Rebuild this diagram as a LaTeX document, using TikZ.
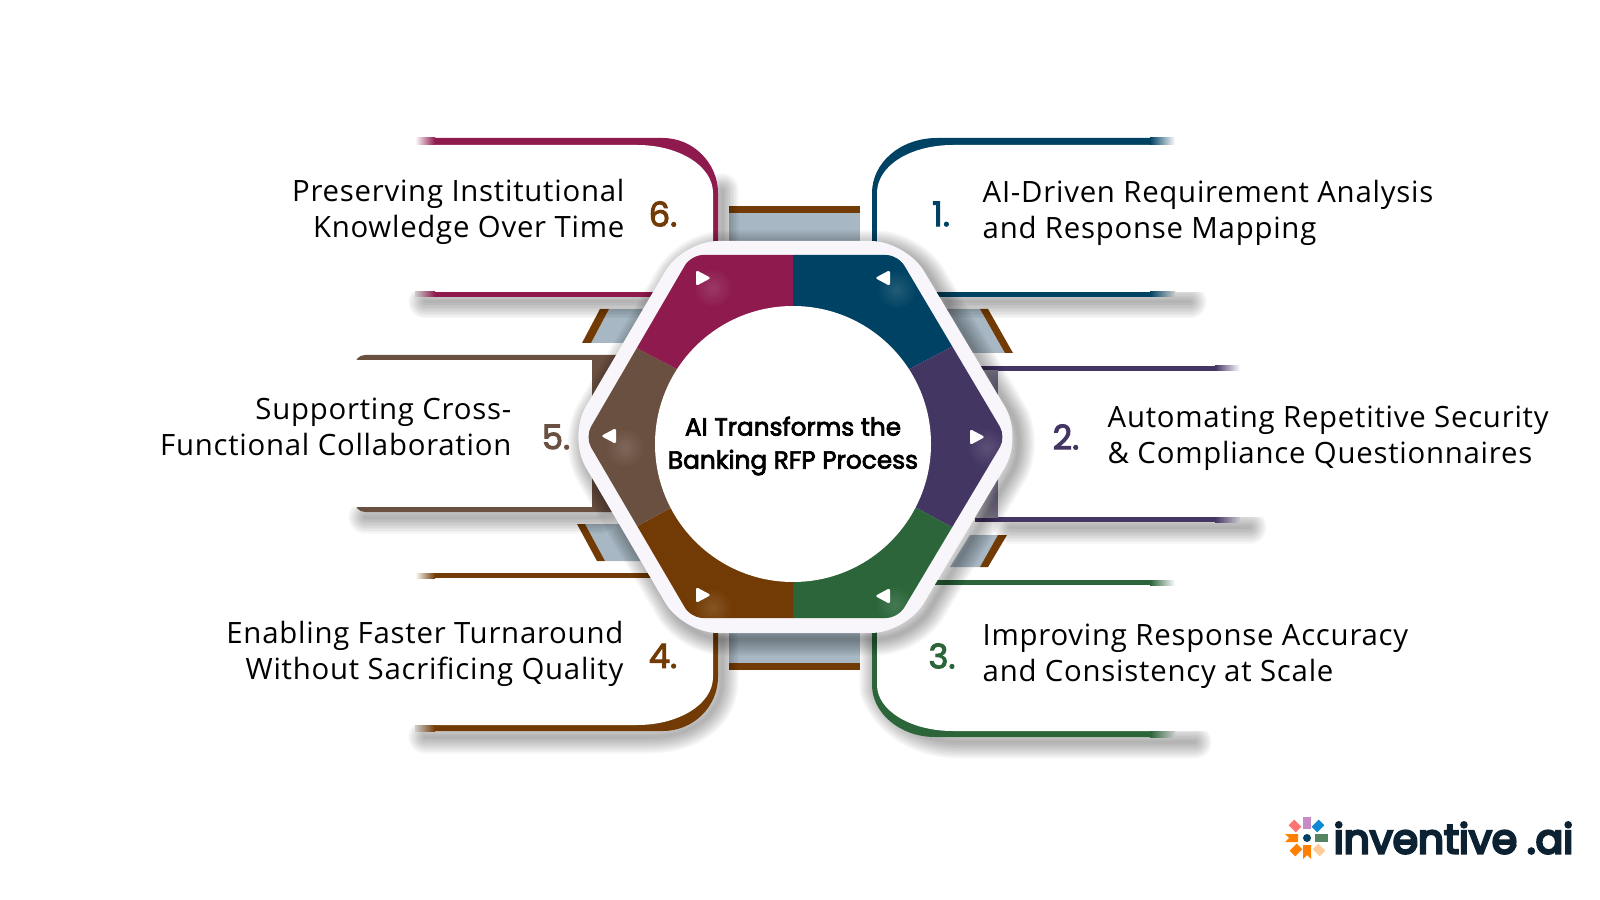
\documentclass[tikz,border=0pt]{standalone}
\usepackage{fontspec}
\usepackage{tikz}
\setmainfont[LetterSpace=2.6]{Open Sans}
\newfontfamily\numfont[FakeBold=3]{Poppins}
\newfontfamily\logofont[FakeBold=6]{Poppins}
\definecolor{cone}{HTML}{004263}
\definecolor{ctwo}{HTML}{443663}
\definecolor{cthree}{HTML}{2B6539}
\definecolor{cfour}{HTML}{723B05}
\definecolor{cfive}{HTML}{6A5040}
\definecolor{csix}{HTML}{8E1A4E}
\definecolor{cbar}{HTML}{A7B7C3}
\definecolor{crim}{HTML}{F8F6FA}
\definecolor{cink}{HTML}{0C2233}
\tikzset{cardtext/.style = {inner sep = 0, text = black, font = \fontsize{8.35pt}{10.25pt}\selectfont}}
\tikzset{cardnum/.style = {inner sep = 0, font = \numfont\fontsize{9.6pt}{10pt}\selectfont}}
\tikzset{hubcircle/.style = {circle, fill = white, inner sep = 0, minimum size = 2.76cm}}
\tikzset{tip/.style = {fill = white, rounded corners = 0.25mm}}
\newcommand{\softshadow}[1]{\foreach \w in {3,6,...,33}{\draw [black, opacity = 0.03, line width = \w*0.1mm, line cap = round, line join = round] #1;}}
\begin{document}
\begin{tikzpicture}[x=0.1mm, y=-0.1mm]
      \useasboundingbox (0, 0) rectangle (1600, 900);

      \fill [cbar] (729, 213) rectangle (860, 250);
      \fill [cfour] (729, 206) rectangle (860, 213);
      \fill [cbar] (729, 625) rectangle (860, 663);
      \fill [cfour] (729, 663) rectangle (860, 670);

      \fill [cbar] (945, 309) -- (980, 309) -- (1005, 353) -- (970, 353) -- cycle;
      \fill [cfour] (980, 309) -- (988, 309) -- (1013, 353) -- (1005, 353) -- cycle;
      \fill [cbar] (609, 309) -- (645, 309) -- (625, 343) -- (591, 343) -- cycle;
      \fill [cfour] (600, 309) -- (609, 309) -- (591, 343) -- (582, 343) -- cycle;
      \fill [cbar] (585, 524) -- (620, 524) -- (645, 561) -- (605, 561) -- cycle;
      \fill [cfour] (577, 524) -- (585, 524) -- (605, 561) -- (597, 561) -- cycle;
      \fill [cbar] (970, 535) -- (998, 535) -- (980, 567) -- (950, 567) -- cycle;
      \fill [cfour] (998, 535) -- (1007, 535) -- (988, 567) -- (980, 567) -- cycle;

      % shadows under the cards
      \softshadow{(950, 302) -- (1190, 302)}
      \softshadow{(1010, 527) -- (1250, 527)}
      \softshadow{(876, 640) -- (876, 690) .. controls (888, 722) and (920, 742) .. (960, 742) -- (1195, 742)}
      \softshadow{(722, 640) -- (722, 680) .. controls (722, 716) and (690, 737) .. (650, 737) -- (425, 737)}
      \softshadow{(365, 517) -- (600, 517)}
      \softshadow{(722, 190) -- (722, 250)}
      \softshadow{(425, 302) -- (650, 302)}

      % card 1
      \fill [cone] (1150, 138) -- (937, 138) .. controls (900, 138) and (872, 163) .. (872, 193) -- (872, 297) -- (1150, 297) -- cycle;
      \fill [white] (1240, 145) -- (953, 145) .. controls (910, 145) and (877, 166) .. (877, 193) -- (877, 292) -- (1240, 292) -- cycle;
      \shade [left color = cone, right color = white] (1150, 138) rectangle (1175, 145);
      \shade [left color = cone, right color = black!20] (1150, 292) rectangle (1175, 297);

      % card 2
      \fill [ctwo] (975, 366) rectangle (1215, 522);
      \shade [left color = black!25, right color = ctwo!70] (975, 371) rectangle (998, 517);
      \fill [white] (998, 371) rectangle (1300, 517);
      \shade [left color = ctwo, right color = white] (1215, 366) rectangle (1240, 371);
      \shade [left color = ctwo, right color = black!20] (1215, 517) rectangle (1240, 522);

      % card 3
      \fill [cthree] (1150, 737) -- (935, 737) .. controls (900, 737) and (872, 713) .. (872, 685) -- (872, 580) -- (1150, 580) -- cycle;
      \fill [white] (1240, 731) -- (953, 731) .. controls (910, 731) and (877, 710) .. (877, 685) -- (877, 585) -- (1240, 585) -- cycle;
      \shade [left color = cthree, right color = white] (1150, 580) rectangle (1175, 585);
      \shade [left color = cthree, right color = black!20] (1150, 731) rectangle (1175, 737);

      % card 4
      \fill [cfour] (435, 731) -- (663, 731) .. controls (693, 731) and (718, 707) .. (718, 677) -- (718, 573) -- (435, 573) -- cycle;
      \fill [white] (380, 725) -- (637, 725) .. controls (679, 725) and (713, 704) .. (713, 677) -- (713, 578) -- (380, 578) -- cycle;
      \shade [left color = white, right color = cfour] (415, 573) rectangle (435, 578);
      \shade [left color = black!20, right color = cfour] (415, 725) rectangle (435, 731);

      % card 5
      \fill [cfive, rounded corners = 1mm] (355, 355) rectangle (650, 512);
      \fill [white] (340, 360) rectangle (592, 507);

      % card 6
      \fill [csix] (435, 138) -- (663, 138) .. controls (693, 138) and (718, 163) .. (718, 193) -- (718, 297) -- (435, 297) -- cycle;
      \fill [white] (380, 145) -- (637, 145) .. controls (679, 145) and (713, 166) .. (713, 193) -- (713, 292) -- (380, 292) -- cycle;
      \shade [left color = white, right color = csix] (415, 138) rectangle (435, 145);
      \shade [left color = black!20, right color = csix] (415, 292) rectangle (435, 297);

      % hexagon
      \softshadow{[rounded corners = 3.5mm] (689, 247) -- (912, 247) -- (1029, 443) -- (912, 639) -- (689, 639) -- (574, 443) -- cycle}
      \fill [crim, rounded corners = 3.5mm] (683, 241) -- (906, 241) -- (1023, 437) -- (906, 633) -- (683, 633) -- (568, 437) -- cycle;
      \begin{scope}
        \clip [rounded corners = 1.2mm] (691, 255) -- (898, 255) -- (1006, 437) -- (898, 618) -- (691, 618) -- (585, 437) -- cycle;
        \fill [cone] (793, 240) -- (1020, 240) -- (1020, 311) -- (793, 430) -- cycle;
        \fill [ctwo] (793, 430) -- (1020, 311) -- (1020, 564) -- (793, 441) -- cycle;
        \fill [cthree] (793, 441) -- (1020, 564) -- (1020, 640) -- (793, 640) -- cycle;
        \fill [cfour] (793, 441) -- (570, 563) -- (570, 640) -- (793, 640) -- cycle;
        \fill [cfive] (793, 430) -- (570, 313) -- (570, 563) -- (793, 441) -- cycle;
        \fill [csix] (793, 240) -- (570, 240) -- (570, 313) -- (793, 430) -- cycle;
      \end{scope}

      \foreach \x/\y in {713/288, 897/290, 987/448, 625/448, 713/608, 895/605} {
        \foreach \r in {3, 6, ..., 18} {
          \fill [white, opacity = 0.022] (\x, \y) circle [radius = \r];
        }
      }
      \foreach \x/\y/\d in {703/278/1, 883/278/-1, 977/437/1, 609/436/-1, 703/595/1, 883/596/-1} {
        \fill [tip] ({\x-\d*7}, {\y-8}) -- ({\x+\d*8}, \y) -- ({\x-\d*7}, {\y+8}) -- cycle;
      }

      \node (hub) at (793, 444) [hubcircle] {};
      \node (hubtext) at (793, 446) [align = center, inner sep = 0, font = \numfont\fontsize{7.05pt}{9.4pt}\selectfont] {AI Transforms the\\Banking RFP Process};

      \node (t1) at (982, 213) [cardtext, anchor = west, align = left] {AI-Driven Requirement Analysis\\and Response Mapping};
      \node (n1) at (941, 214) [cardnum, text = cone] {1.};
      \node (t2) at (1107, 438) [cardtext, anchor = west, align = left] {Automating Repetitive Security\\\& Compliance Questionnaires};
      \node (n2) at (1066, 437) [cardnum, text = ctwo] {2.};
      \node (t3) at (982, 656) [cardtext, anchor = west, align = left] {Improving Response Accuracy\\and Consistency at Scale};
      \node (n3) at (942, 656) [cardnum, text = cthree] {3.};
      \node (t4) at (624, 654) [cardtext, anchor = east, align = right] {Enabling Faster Turnaround\\Without Sacrificing Quality};
      \node (n4) at (663, 656) [cardnum, text = cfour] {4.};
      \node (t5) at (512, 427) [cardtext, anchor = east, align = right] {Supporting Cross-\\Functional Collaboration};
      \node (n5) at (556, 437) [cardnum, text = cfive] {5.};
      \node (t6) at (625, 212) [cardtext, anchor = east, align = right] {Preserving Institutional\\Knowledge Over Time};
      \node (n6) at (663, 214) [cardnum, text = cfour] {6.};

      % logo
      \fill [violet!45] (1303, 817) rectangle (1311, 829);
      \fill [orange] (1303, 845) -- (1311, 845) -- (1311, 859) -- (1307, 855) -- (1303, 859) -- cycle;
      \fill [cthree!80] (1315, 834) rectangle (1328, 842);
      \fill [orange] (1285, 834) -- (1298, 834) -- (1298, 842) -- (1285, 842) -- (1289, 838) -- cycle;
      \fill [cyan!70!blue, rotate around = {45:(1318, 826)}] (1313, 822) rectangle (1323, 830);
      \fill [red!55, rotate around = {-45:(1295, 826)}] (1290, 822) rectangle (1300, 830);
      \fill [orange!40, rotate around = {-45:(1319, 850)}] (1314, 846) rectangle (1324, 854);
      \fill [orange, rotate around = {45:(1296, 850)}] (1291, 846) rectangle (1301, 854);
      \fill [cone] (1307, 838) circle [radius = 4];
      \node (logo) at (1333, 838) [anchor = west, inner sep = 0, text = cink, font = \logofont\fontsize{11.6pt}{14pt}\selectfont] {inventive\hspace{1mm}.ai};
    \end{tikzpicture}
\end{document}
